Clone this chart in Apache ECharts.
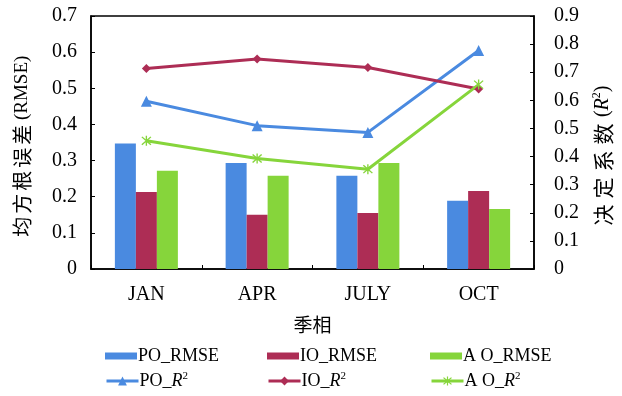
<!DOCTYPE html>
<html>
<head>
<meta charset="utf-8">
<script src="https://cdn.jsdelivr.net/npm/echarts@6/dist/echarts.min.js"></script>
<style>
  html, body { margin: 0; padding: 0; background: #fff; }
  #chart { width: 622px; height: 396px; }
</style>
</head>
<body>
<div id="chart"></div>
<script>
// Seasons on the category axis
const seasons = ['JAN', 'APR', 'JULY', 'OCT'];

// Root mean square error per season (left axis)
const poRmse = [0.347, 0.293, 0.258, 0.189];
const ioRmse = [0.213, 0.150, 0.155, 0.216];
const aoRmse = [0.272, 0.258, 0.293, 0.166];

// Coefficient of determination per season (right axis)
const poR2 = [0.597, 0.510, 0.486, 0.777];
const ioR2 = [0.713, 0.747, 0.717, 0.640];
const aoR2 = [0.456, 0.393, 0.355, 0.656];

// Axis ranges
const rmseMax = 0.7, rmseStep = 0.1;
const r2Max = 0.9, r2Step = 0.1;

const BLUE = '#4a8ae0';
const RED = '#ad2d55';
const GREEN = '#86d53b';
const SERIF = '"Liberation Serif", "Times New Roman", serif';
const CJK = '"Noto Sans CJK SC", "Liberation Serif", serif';

// asterisk marker built from three thin bars
const ASTERISK = 'path://M4.4,0L5.6,0L5.6,10L4.4,10Z M0.6,1.45L1.45,0.6L9.4,8.55L8.55,9.4Z M8.55,0.6L9.4,1.45L1.45,9.4L0.6,8.55Z';

const superRich = {
  n: { fontFamily: SERIF, fontSize: 18, color: '#000', lineHeight: 20 },
  i: { fontFamily: SERIF, fontSize: 18, fontStyle: 'italic', color: '#000', lineHeight: 20 },
  s: { fontFamily: SERIF, fontSize: 11, color: '#000', verticalAlign: 'top', lineHeight: 20 }
};

const legendNames = {
  'PO_RMSE': '{n|PO_RMSE}',
  'IO_RMSE': '{n|IO_RMSE}',
  'A O_RMSE': '{n|A O_RMSE}',
  'PO_R2': '{n|PO_}{i|R}{s|2}',
  'IO_R2': '{n|IO_}{i|R}{s|2}',
  'A O_R2': '{n|A O_}{i|R}{s|2}'
};

function legendAt(name, left, top, icon, h) {
  const lg = {
    data: [name],
    left: left,
    top: top,
    padding: 0,
    itemWidth: 32,
    itemHeight: h,
    itemGap: 0,
    selectedMode: false,
    lineStyle: { width: 3 },
    formatter: n => legendNames[n],
    textStyle: { fontFamily: SERIF, fontSize: 18, color: '#000', padding: [0, 0, 0, -4], rich: superRich }
  };
  if (icon) lg.icon = icon;
  return lg;
}

const chart = echarts.init(document.getElementById('chart'), null, { renderer: 'canvas' });

chart.setOption({
  animation: false,
  backgroundColor: '#fff',
  grid: {
    left: 91, right: 88, top: 16, bottom: 127,
    show: true, borderColor: '#000', borderWidth: 1.5, backgroundColor: 'transparent'
  },
  legend: [
    legendAt('PO_RMSE', 105, 347, 'rect', 7),
    legendAt('IO_RMSE', 267, 347, 'rect', 7),
    legendAt('A O_RMSE', 430, 347, 'rect', 7),
    legendAt('PO_R2', 105, 371, null, 11),
    legendAt('IO_R2', 267, 371, null, 11),
    legendAt('A O_R2', 430, 371, null, 11)
  ],
  xAxis: {
    type: 'category',
    data: seasons,
    boundaryGap: true,
    name: '季相',
    nameLocation: 'middle',
    nameGap: 46,
    nameTextStyle: { fontFamily: CJK, fontSize: 19, color: '#000' },
    axisLine: { lineStyle: { color: '#000', width: 1.5 } },
    axisTick: { show: true, inside: true, length: 4, lineStyle: { color: '#000' } },
    axisLabel: { fontFamily: SERIF, fontSize: 20, color: '#000', margin: 16 }
  },
  yAxis: [
    {
      type: 'value', min: 0, max: rmseMax, interval: rmseStep, position: 'left',
      axisLine: { show: true, lineStyle: { color: '#000', width: 1.5 } },
      axisTick: { show: true, inside: true, length: 4, lineStyle: { color: '#000' } },
      splitLine: { show: false },
      axisLabel: { fontFamily: SERIF, fontSize: 20, color: '#000', margin: 14,
        formatter: v => (v === 0 ? '0' : v.toFixed(1)) }
    },
    {
      type: 'value', min: 0, max: r2Max, interval: r2Step, position: 'right',
      axisLine: { show: true, lineStyle: { color: '#000', width: 1.5 } },
      axisTick: { show: true, inside: true, length: 4, lineStyle: { color: '#000' } },
      splitLine: { show: false },
      axisLabel: { fontFamily: SERIF, fontSize: 20, color: '#000', margin: 20,
        formatter: v => (v === 0 ? '0' : v.toFixed(1)) }
    }
  ],
  graphic: [
    {
      type: 'text', x: 22, y: 147, rotation: Math.PI / 2,
      style: {
        text: '{c|均}{c|方}{c|根}{c|误}{c|差} {n|(RMSE)}',
        align: 'center', verticalAlign: 'middle',
        rich: {
          c: { fontFamily: CJK, fontSize: 20, fill: '#000', padding: [0, 1.5, 0, 1.5] },
          n: { fontFamily: SERIF, fontSize: 19, fill: '#000' }
        }
      }
    },
    {
      type: 'text', x: 603, y: 157, rotation: Math.PI / 2,
      style: {
        text: '{c|决}{c|定}{c|系}{c|数} {n|(}{i|R}{s|2}{n|)}',
        align: 'center', verticalAlign: 'middle',
        rich: {
          c: { fontFamily: CJK, fontSize: 21, fill: '#000', lineHeight: 24, padding: [0, 3, 0, 3] },
          n: { fontFamily: SERIF, fontSize: 20, fill: '#000', lineHeight: 24 },
          i: { fontFamily: SERIF, fontSize: 20, fontStyle: 'italic', fill: '#000', lineHeight: 24 },
          s: { fontFamily: SERIF, fontSize: 12, fill: '#000', verticalAlign: 'top', lineHeight: 24 }
        }
      }
    }
  ],
  series: [
    { name: 'PO_RMSE', type: 'bar', yAxisIndex: 0, data: poRmse, barWidth: 21, barGap: '0%', itemStyle: { color: BLUE } },
    { name: 'IO_RMSE', type: 'bar', yAxisIndex: 0, data: ioRmse, barWidth: 21, barGap: '0%', itemStyle: { color: RED } },
    { name: 'A O_RMSE', type: 'bar', yAxisIndex: 0, data: aoRmse, barWidth: 21, barGap: '0%', itemStyle: { color: GREEN } },
    { name: 'PO_R2', type: 'line', yAxisIndex: 1, data: poR2, symbol: 'triangle', symbolSize: 11,
      lineStyle: { color: BLUE, width: 3 }, itemStyle: { color: BLUE } },
    { name: 'IO_R2', type: 'line', yAxisIndex: 1, data: ioR2, symbol: 'diamond', symbolSize: 9,
      lineStyle: { color: RED, width: 3 }, itemStyle: { color: RED } },
    { name: 'A O_R2', type: 'line', yAxisIndex: 1, data: aoR2, symbol: ASTERISK, symbolSize: 10,
      lineStyle: { color: GREEN, width: 3 }, itemStyle: { color: GREEN } }
  ]
});
</script>
</body>
</html>
